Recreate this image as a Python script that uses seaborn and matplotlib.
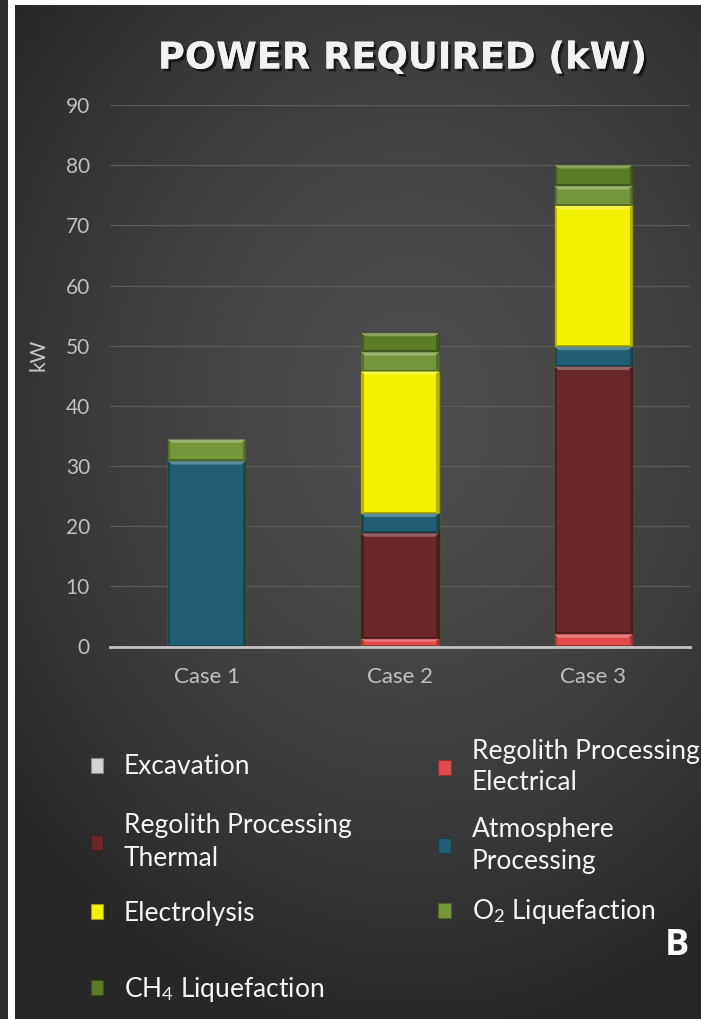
import numpy as np
import matplotlib
matplotlib.use("Agg")
import matplotlib.pyplot as plt
import matplotlib.patches as mpatches
import matplotlib.patheffects as pe
import seaborn as sns

# ---- data (kW) ----
cases = ["Case 1", "Case 2", "Case 3"]
excavation = [0.0, 0.0, 0.0]
regolith_electrical = [0.0, 1.2, 2.0]
regolith_thermal = [0.0, 17.6, 44.5]
atmosphere_processing = [30.8, 3.3, 3.3]
electrolysis = [0.0, 23.6, 23.4]
o2_liquefaction = [3.6, 3.2, 3.3]
ch4_liquefaction = [0.0, 3.2, 3.5]

series_names = ["Excavation", "Regolith Processing\nElectrical", "Regolith Processing\nThermal",
                "Atmosphere\nProcessing", "Electrolysis", "O$_2$ Liquefaction", "CH$_4$ Liquefaction"]
series_values = [excavation, regolith_electrical, regolith_thermal, atmosphere_processing,
                 electrolysis, o2_liquefaction, ch4_liquefaction]
series_colors = ["#d4d4d4", "#e04a4c", "#6b2729", "#215e72", "#f2f200", "#76963a", "#5b7b24"]

y_ticks = [0, 10, 20, 30, 40, 50, 60, 70, 80, 90]

sns.set_style("dark")
plt.rcParams["font.family"] = ["Lato", "DejaVu Sans"]
plt.rcParams["mathtext.fontset"] = "custom"
plt.rcParams["mathtext.rm"] = "Lato"
plt.rcParams["mathtext.it"] = "Lato:italic"

W, H = 701, 1019
fig = plt.figure(figsize=(W / 100, H / 100), dpi=100)
fig.patch.set_facecolor("#2c2c2c")

# panel background: soft radial grey gradient
bg_ax = fig.add_axes([15 / W, 0, 1 - 15 / W, 1 - 5 / H], zorder=-10)
gy, gx = np.mgrid[0:1:400j, 0:1:300j]
d = np.sqrt(((gx - 0.58) / 0.75) ** 2 + ((gy - 0.40) / 0.62) ** 2)
d = np.clip(d, 0, 1)
v = (0x4d - (0x4d - 0x27) * d ** 1.6) / 255.0
bg_ax.imshow(np.dstack([v, v, v]), aspect="auto", extent=[0, 1, 0, 1], origin="upper")
bg_ax.set_axis_off()

# frame strips on the left and top
fig.add_artist(mpatches.Rectangle((8 / W, 0), 7 / W, 1, transform=fig.transFigure,
                                  facecolor="white", edgecolor="none", zorder=-5))
fig.add_artist(mpatches.Rectangle((8 / W, 1 - 5 / H), 1, 5 / H, transform=fig.transFigure,
                                  facecolor="white", edgecolor="none", zorder=-5))

# main axes
ax_l, ax_r = 110 / W, 690 / W
ax_b, ax_t = 1 - 646.5 / H, 1 - 105 / H
ax = fig.add_axes([ax_l, ax_b, ax_r - ax_l, ax_t - ax_b])
ax.patch.set_alpha(0)


def shade(c, f):
    rgb = np.array(matplotlib.colors.to_rgb(c))
    if f > 0:
        return tuple(rgb + (1 - rgb) * f)
    return tuple(rgb * (1 + f))


# stacked bars: draw cumulative totals from the top layer down
cums = np.cumsum(np.array(series_values), axis=0)
bar_w = 0.4
for i in range(len(series_values) - 1, -1, -1):
    sns.barplot(x=cases, y=cums[i], color=series_colors[i], saturation=1, width=bar_w,
                errorbar=None, ax=ax, edgecolor=shade(series_colors[i], -0.35), linewidth=1.0)
    cont = ax.containers[-1]
    for p, seg in zip(cont.patches, series_values[i]):
        if seg <= 0:
            continue
        x0, w, top = p.get_x(), p.get_width(), p.get_height()
        bev = min(0.55, seg / 3)
        # bevelled edges: lit top, shaded bottom and sides
        ax.add_patch(mpatches.Rectangle((x0, top - seg), w, bev * 0.6,
                                        facecolor=shade(series_colors[i], -0.3), edgecolor="none"))
        ax.add_patch(mpatches.Rectangle((x0, top - seg), 0.012, seg,
                                        facecolor=shade(series_colors[i], -0.25), edgecolor="none"))
        ax.add_patch(mpatches.Rectangle((x0 + w - 0.012, top - seg), 0.012, seg,
                                        facecolor=shade(series_colors[i], -0.25), edgecolor="none"))
        ax.add_patch(mpatches.Polygon([(x0, top), (x0 + w, top), (x0 + w - 0.02, top - bev),
                                       (x0 + 0.02, top - bev)], closed=True,
                                      facecolor=shade(series_colors[i], 0.28), edgecolor="none"))

ax.set_xlim(-0.5, 2.5)
ax.set_ylim(0, 90)
ax.set_yticks(y_ticks)
ax.set_yticklabels([str(t) for t in y_ticks])
ax.grid(axis="y", color="#5b5b5b", linewidth=0.9)
ax.grid(axis="x", visible=False)
ax.set_axisbelow(True)
for s in ["top", "right", "left"]:
    ax.spines[s].set_visible(False)
ax.spines["bottom"].set_color("#c4c4c4")
ax.spines["bottom"].set_linewidth(2.0)
ax.spines["bottom"].set_zorder(5)
ax.tick_params(axis="both", length=0, colors="#c0c0c0")
ax.tick_params(axis="y", pad=14.4, labelsize=15)
ax.tick_params(axis="x", pad=15, labelsize=16)
ax.set_xlabel("")
ax.set_ylabel("kW", color="#c8c8c8", fontsize=15)
ax.yaxis.set_label_coords((49 - 110) / 580, (646.5 - 355) / 541.5)

# title with soft drop shadow
fig.text(402 / W, 1 - 58 / H, "POWER REQUIRED (kW)", ha="center", va="center",
         fontsize=26.5, fontweight="bold", color="#f2f2f2", family=["DejaVu Sans"],
         path_effects=[pe.withSimplePatchShadow(offset=(2, -2), shadow_rgbFace="black", alpha=0.6),
                       pe.Normal()])

# legend entries placed individually
legend_pos = [(90.5, 767), (438, 767), (90.5, 842), (438, 845),
              (90.5, 913), (438, 912), (90.5, 989)]
for name, col, (px, py) in zip(series_names, series_colors, legend_pos):
    handle = mpatches.Patch(facecolor=col, edgecolor=shade(col, -0.35), linewidth=0.8)
    leg = fig.legend(handles=[handle], labels=[name], loc="center left",
                     bbox_to_anchor=(px / W, 1 - py / H), bbox_transform=fig.transFigure,
                     frameon=False, fontsize=19, labelcolor="#f4f4f4", handlelength=0.49,
                     handleheight=0.49, handletextpad=0.78, borderpad=0, borderaxespad=0)
    for t in leg.get_texts():
        t.set_linespacing(1.35)

fig.text(677 / W, 1 - 946 / H, "B", ha="center", va="center", fontsize=26,
         fontweight="bold", color="white", family=["Open Sans", "DejaVu Sans"])

fig.savefig("out.png", dpi=100, facecolor=fig.get_facecolor())
